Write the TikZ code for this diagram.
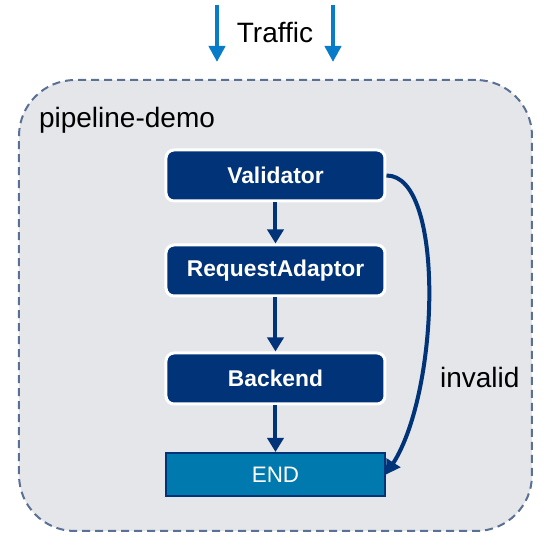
\documentclass[tikz,border=0pt]{standalone}
\usepackage{fontspec}
\setmainfont{Liberation Sans}
\setsansfont{Liberation Sans}
\RequirePackage{xcolor}
\tikzset{every picture/.style={/utils/exec={\sffamily}}}
\usetikzlibrary{calc}
\usetikzlibrary{positioning}
\usetikzlibrary{arrows.meta}

\definecolor{navy}{RGB}{0,51,119}
\definecolor{endblue}{RGB}{0,121,174}
\definecolor{traffic}{RGB}{8,124,200}
\definecolor{panel}{RGB}{228,230,234}
\definecolor{dashgray}{RGB}{90,112,149}

\tikzset{
  stage/.style={draw=white, line width=1.5pt, fill=navy, rounded corners=4pt,
    minimum width=109.5pt, minimum height=25.5pt, text=white,
    font=\fontsize{11.4}{13}\selectfont\bfseries},
  endbox/.style={draw=navy, line width=1pt, fill=endblue,
    minimum width=109.5pt, minimum height=21.5pt, text=white,
    font=\fontsize{11.2}{13}\selectfont},
  label/.style={font=\fontsize{14}{16}\selectfont},
  flow/.style={navy, line width=2pt, -{Triangle[width=8pt,length=7pt]}},
  inflow/.style={traffic, line width=2pt, -{Triangle[width=8pt,length=8pt]}}
}

\begin{document}
\begin{tikzpicture}[x=0.5pt,y=-0.5pt]
  \useasboundingbox (0,0) rectangle (548,546);

  % pipeline box
  \node [draw=dashgray, dashed, dash pattern=on 4pt off 2.5pt, line width=1pt,
    fill=panel, rounded corners=28pt, minimum width=256.5pt, minimum height=225.5pt]
    at (275.5,305.5) (pipeline) {};
  \node [label, anchor=west] at (32,120) (pipename) {pipeline-demo};

  % traffic
  \node [label] at (275,32) (trafficlabel) {Traffic};
  \foreach \x/\n in {217/left, 333/right} {
    \coordinate (in\n) at (\x,5);
    \coordinate (to\n) at (\x,62);
    \draw [inflow] (in\n) -- (to\n);
  }

  % stages
  \node [stage] at (275.5,175.5) (validator) {Validator};
  \node [stage] at (275.5,270.5) (adaptor) {RequestAdaptor};
  \node [stage] at (275.5,378.5) (backend) {Backend};
  \node [endbox] at (275.5,474.5) (finish) {END};

  \draw [flow] (validator) -- (adaptor);
  \draw [flow] (adaptor) -- (backend);
  \draw [flow] (backend) -- (finish);

  \draw [flow] (validator.east) .. controls (445,175) and (440,390) .. (finish.east);
  \node [label, anchor=west] at (433,377) (invalid) {invalid};

\end{tikzpicture}
\end{document}
